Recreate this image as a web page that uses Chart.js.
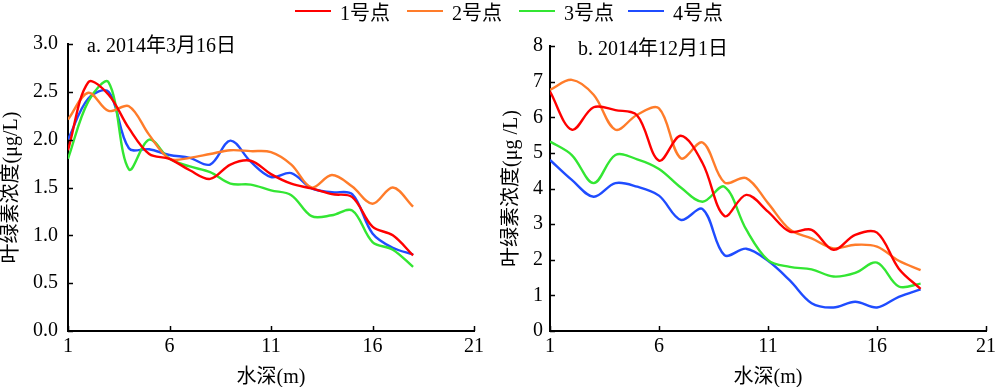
<!DOCTYPE html>
<html>
<head>
<meta charset="utf-8">
<script src="https://cdn.jsdelivr.net/npm/chart.js@4.4.1/dist/chart.umd.min.js"></script>
<style>
html,body{margin:0;padding:0;background:#fff;}
#wrap{position:relative;width:1000px;height:387px;overflow:hidden;background:#fff;}
#cA{position:absolute;left:0;top:0;}
#cB{position:absolute;left:500px;top:0;}
#legend{position:absolute;left:0;top:0;width:1000px;height:22px;font-family:'Liberation Serif','Noto Sans CJK SC',serif;font-size:20px;color:#000;}
.item{position:absolute;top:0;height:22px;display:flex;align-items:center;white-space:nowrap;}
.swatch{width:36px;height:2px;margin-right:9px;}
</style>
</head>
<body>
<div id="wrap">
  <canvas id="cA" width="500" height="387"></canvas>
  <canvas id="cB" width="500" height="387"></canvas>
  <div id="legend"></div>
</div>
<script>
// ---------- data ----------
const seriesNames = ['1号点', '2号点', '3号点', '4号点'];
const seriesColors = ['#ff0000', '#ff7c2a', '#33e633', '#1f4cff'];
const depths = [1, 2, 3, 4, 5, 6, 7, 8, 9, 10, 11, 12, 13, 14, 15, 16, 17, 18];

// panel a: 2014-03-16
const a1 = [1.89, 2.60, 2.47, 2.12, 1.85, 1.80, 1.68, 1.59, 1.74, 1.78, 1.64, 1.54, 1.49, 1.43, 1.40, 1.09, 1.00, 0.79];
const a2 = [2.21, 2.49, 2.30, 2.35, 2.05, 1.80, 1.81, 1.85, 1.89, 1.88, 1.87, 1.74, 1.50, 1.63, 1.51, 1.33, 1.50, 1.30];
const a3 = [1.80, 2.40, 2.60, 1.69, 2.00, 1.80, 1.72, 1.66, 1.54, 1.53, 1.47, 1.42, 1.20, 1.21, 1.26, 0.93, 0.85, 0.67];
const a4 = [2.00, 2.43, 2.50, 1.91, 1.90, 1.84, 1.81, 1.74, 1.99, 1.77, 1.61, 1.65, 1.49, 1.45, 1.43, 1.02, 0.87, 0.80];

// panel b: 2014-12-01
const b1 = [6.72, 5.65, 6.28, 6.20, 6.05, 4.78, 5.48, 4.71, 3.23, 3.82, 3.35, 2.79, 2.84, 2.28, 2.70, 2.76, 1.75, 1.18];
const b2 = [6.77, 7.05, 6.63, 5.65, 6.07, 6.25, 4.85, 5.29, 4.17, 4.29, 3.59, 2.85, 2.60, 2.32, 2.42, 2.37, 1.97, 1.71];
const b3 = [5.32, 4.94, 4.15, 4.94, 4.82, 4.55, 4.03, 3.63, 4.05, 2.85, 1.99, 1.80, 1.73, 1.53, 1.63, 1.92, 1.25, 1.33];
const b4 = [4.80, 4.24, 3.77, 4.15, 4.05, 3.80, 3.12, 3.42, 2.13, 2.31, 1.97, 1.42, 0.78, 0.66, 0.82, 0.66, 0.96, 1.17];

// tick labels
const xTicks = [1, 6, 11, 16, 21];
const yTicksA = [0, 0.5, 1.0, 1.5, 2.0, 2.5, 3.0];
const yTicksB = [0, 1, 2, 3, 4, 5, 6, 7, 8];

const titleA = 'a. 2014年3月16日';
const titleB = 'b. 2014年12月1日';
const xTitle = '水深(m)';
const yTitleA = '叶绿素浓度(μg/L)';
const yTitleB = '叶绿素浓度(μg /L)';

// ---------- rendering ----------
const FAMILY = "'Liberation Serif', 'Noto Sans CJK SC', serif";

// legend (HTML, built from the series arrays)
const legendLeft = [295, 407, 519, 628];
const legend = document.getElementById('legend');
seriesNames.forEach((n, i) => {
  const it = document.createElement('div');
  it.className = 'item';
  it.style.left = legendLeft[i] + 'px';
  const sw = document.createElement('span');
  sw.className = 'swatch';
  sw.style.background = seriesColors[i];
  const tx = document.createElement('span');
  tx.textContent = n;
  it.appendChild(sw); it.appendChild(tx);
  legend.appendChild(it);
});

const innerTicks = {
  id: 'innerTicks',
  afterDraw(chart, args, opts) {
    const {ctx, chartArea, scales} = chart;
    ctx.save();
    ctx.strokeStyle = '#000';
    ctx.lineWidth = 1.5;
    scales.x.ticks.forEach(t => {
      const px = Math.round(scales.x.getPixelForValue(t.value)) + 0.5;
      ctx.beginPath(); ctx.moveTo(px, chartArea.bottom); ctx.lineTo(px, chartArea.bottom - 5); ctx.stroke();
    });
    scales.y.ticks.forEach(t => {
      const py = Math.round(scales.y.getPixelForValue(t.value)) + 0.5;
      ctx.beginPath(); ctx.moveTo(chartArea.left, py); ctx.lineTo(chartArea.left + 5, py); ctx.stroke();
    });
    ctx.fillStyle = '#000';
    ctx.font = '20px ' + FAMILY;
    ctx.textBaseline = 'middle';
    ctx.textAlign = 'left';
    ctx.fillText(opts.text, chartArea.left + opts.dx, chartArea.top + opts.dy);
    ctx.restore();
  }
};

function makeDatasets(series) {
  return series.map((vals, i) => ({
    label: seriesNames[i],
    data: depths.map((d, j) => ({x: d, y: vals[j]})),
    borderColor: seriesColors[i],
    backgroundColor: seriesColors[i],
    borderWidth: 2.4,
    pointRadius: 0,
    tension: 0.35,
    fill: false
  }));
}

function makeChart(id, series, yTicks, yMax, yFmt, yTitle, yAxisWidth, pad, label, labelDx, labelDy, yTickPad) {
  return new Chart(document.getElementById(id), {
    type: 'line',
    data: {datasets: makeDatasets(series)},
    plugins: [innerTicks],
    options: {
      responsive: false,
      animation: false,
      devicePixelRatio: 1,
      layout: {padding: pad, autoPadding: false},
      plugins: {
        legend: {display: false},
        tooltip: {enabled: false},
        innerTicks: {text: label, dx: labelDx, dy: labelDy}
      },
      scales: {
        x: {
          type: 'linear', min: 1, max: 21,
          afterBuildTicks: s => { s.ticks = xTicks.map(v => ({value: v})); },
          afterFit: s => { s.height = 387 - 331 - pad.bottom; },
          grid: {display: false, drawTicks: false},
          border: {display: true, color: '#000', width: 2},
          ticks: {padding: 4, color: '#000', font: {family: FAMILY, size: 20}, maxRotation: 0, autoSkip: false},
          title: {display: true, text: xTitle, color: '#000', font: {family: FAMILY, size: 20, lineHeight: 1}, padding: {top: 0, bottom: -1}}
        },
        y: {
          type: 'linear', min: 0, max: yMax,
          afterBuildTicks: s => { s.ticks = yTicks.map(v => ({value: v})); },
          afterFit: s => { s.width = yAxisWidth; },
          grid: {display: false, drawTicks: false},
          border: {display: true, color: '#000', width: 2},
          ticks: {padding: yTickPad, color: '#000', font: {family: FAMILY, size: 20}, callback: yFmt, autoSkip: false},
          title: {display: true, text: yTitle, color: '#000', font: {family: FAMILY, size: 20, lineHeight: 1.2}, padding: {top: 0, bottom: 0}}
        }
      }
    }
  });
}

makeChart('cA', [a1, a2, a3, a4], yTicksA, 3, v => Number(v).toFixed(1), yTitleA, 68,
  {top: 44, right: 26, left: 0, bottom: 0}, titleA, 19, 3, 10);
makeChart('cB', [b1, b2, b3, b4], yTicksB, 8, v => String(v), yTitleB, 50,
  {top: 46, right: 8, left: 0, bottom: 0}, titleB, 28, 4, 7);
</script>
</body>
</html>
